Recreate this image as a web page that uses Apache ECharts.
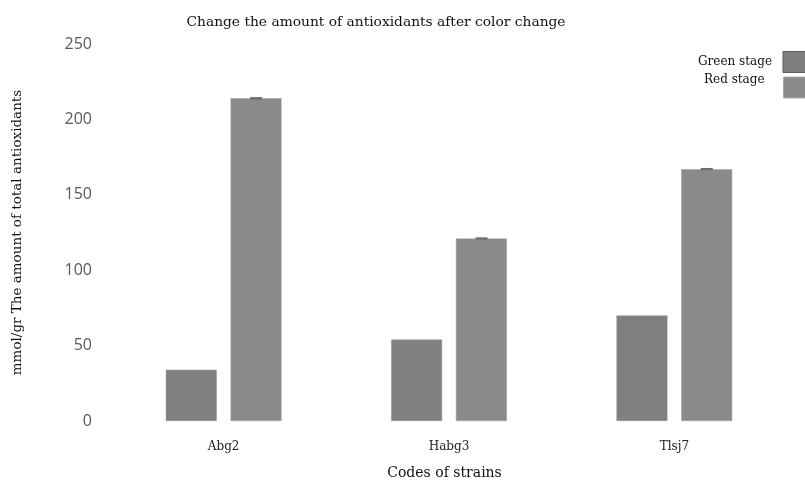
<!DOCTYPE html>
<html><head><meta charset="utf-8">
<script src="https://cdn.jsdelivr.net/npm/echarts@6/dist/echarts.min.js"></script>
<style>html,body{margin:0;padding:0;background:#fff}#c{width:805px;height:482px}</style>
</head><body><div id="c"></div>
<script>
const categories = ['Abg2', 'Habg3', 'Tlsj7'];
const greenStage = [34, 54, 70];
const redStage = [214, 121, 167];
const redErr = [0.8, 0.8, 0.8];
const yTicks = [0, 50, 100, 150, 200, 250];

const chart = echarts.init(document.getElementById('c'));
const serif = '"DejaVu Serif", "Liberation Serif", serif';
const legendBase = {
  orient: 'vertical', align: 'right', padding: 0,
  itemWidth: 26, itemHeight: 21, icon: 'rect'
};
chart.setOption({
  animation: false,
  title: {
    text: 'Change the amount of antioxidants after color change',
    left: 371, top: 10, textAlign: 'center',
    textStyle: {fontFamily: serif, fontSize: 13.8, fontWeight: 'normal', color: '#111'}
  },
  legend: [
    Object.assign({}, legendBase, {
      top: 51, left: 698,
      data: [{name: 'Green stage', itemStyle: {color: '#7e7e7e', borderColor: '#5e5e5e', borderWidth: 1}}],
      formatter: '{g|{name}}',
      textStyle: {fontFamily: serif, fontSize: 12, color: '#111',
        rich: {g: {fontFamily: serif, fontSize: 12, color: '#111', padding: [0, 6, 0, 0]}}}
    }),
    Object.assign({}, legendBase, {
      top: 74, left: 704,
      data: [{name: 'Red stage', itemStyle: {color: '#8a8a8a', borderColor: '#a8a8a8', borderWidth: 1}}],
      formatter: '{r|{name}}',
      textStyle: {fontFamily: serif, fontSize: 12, color: '#111',
        rich: {r: {fontFamily: serif, fontSize: 12, color: '#111', padding: [0, 14, 15, 0]}}}
    })
  ],
  grid: {left: 111, right: 18, top: 44, bottom: 61, containLabel: false, outerBoundsMode: 'none'},
  xAxis: {
    type: 'category', data: categories,
    axisLine: {show: false}, axisTick: {show: false},
    axisLabel: {fontFamily: serif, fontSize: 12, color: '#222', margin: 20},
    name: 'Codes of strains', nameLocation: 'middle', nameGap: 45,
    nameTextStyle: {fontFamily: serif, fontSize: 14, color: '#111', padding: [0, 9, 0, 0]}
  },
  yAxis: {
    type: 'value', min: 0, max: 250, interval: 50,
    splitLine: {show: false}, axisLine: {show: false}, axisTick: {show: false},
    axisLabel: {fontFamily: '"Open Sans", "Liberation Sans", sans-serif', fontSize: 16, color: '#595959', margin: 19,
      formatter: v => yTicks.includes(v) ? String(v) : ''},
    name: 'mmol/gr The amount of total antioxidants', nameLocation: 'middle', nameGap: 87,
    nameTextStyle: {fontFamily: serif, fontSize: 13.5, color: '#111'}
  },
  series: [
    {name: 'Green stage', type: 'bar', data: greenStage, barWidth: 51, barGap: '27%',
     itemStyle: {color: '#808080', borderColor: '#9a9a9a', borderWidth: 0.5}},
    {name: 'Red stage', type: 'bar', data: redStage, barWidth: 51,
     itemStyle: {color: '#8a8a8a', borderColor: '#a0a0a0', borderWidth: 0.5}},
    {name: 'err', type: 'custom', silent: true, z: 5,
     data: redStage.map((v, i) => [i, v, redErr[i]]),
     renderItem: function (params, api) {
       const i = api.value(0), v = api.value(1), e = api.value(2);
       const c = api.coord([i, v]);
       const x = c[0] + 51 / 2 + 7;
       const top = api.coord([i, v + e])[1];
       const bot = api.coord([i, v - e])[1];
       return {type: 'rect', shape: {x: x - 6, y: top, width: 12, height: Math.max(1.5, bot - top)},
               style: {fill: '#6e6e6e'}};
     }}
  ]
});
</script></body></html>
